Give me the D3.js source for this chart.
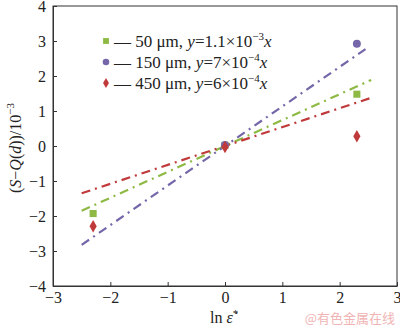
<!DOCTYPE html>
<html><head><meta charset="utf-8">
<script src="https://cdn.jsdelivr.net/npm/d3@7"></script>
<style>body{margin:0;background:#fff}svg{display:block}</style>
</head><body><svg id="c" width="400" height="327"></svg>
<script>
const seriesNames = ["50 μm", "150 μm", "450 μm"];
const seriesColors = ["#8db944", "#7466a8", "#c0393b"];
const pointX = [-2.3, 0, 2.3];
const green50 = [-1.93, 0.02, 1.48];
const purple150 = [null, 0.03, 2.92];
const red450 = [-2.29, -0.03, 0.28];
const fitSlopes = [0.74, 1.13, 0.54];
const fitStart = [-2.5, -2.5, -2.5];
const fitEnd = [2.55, 2.45, 2.6];
const xTicks = [-3, -2, -1, 0, 1, 2, 3];
const yTicks = [-4, -3, -2, -1, 0, 1, 2, 3, 4];

const FONT = "'Liberation Serif', 'Times New Roman', serif";
const svg = d3.select("#c");
const x = d3.scaleLinear().domain([-3, 3]).range([53, 397]);
const y = d3.scaleLinear().domain([-4, 4]).range([286, 6]);

svg.append("rect").attr("x", 53).attr("y", 6).attr("width", 344).attr("height", 280)
  .attr("fill", "none").attr("stroke", "#333").attr("stroke-width", 1);

const xa = svg.append("g").attr("transform", "translate(0,286)")
  .call(d3.axisBottom(x).tickValues(xTicks).tickSizeInner(-4).tickSizeOuter(0).tickPadding(6)
    .tickFormat(d => d < 0 ? "\u2212" + Math.abs(d) : d));
const ya = svg.append("g").attr("transform", "translate(53,0)")
  .call(d3.axisLeft(y).tickValues(yTicks).tickSizeInner(-4).tickSizeOuter(0).tickPadding(7)
    .tickFormat(d => d < 0 ? "\u2212" + Math.abs(d) : d));
[xa, ya].forEach(a => {
  a.attr("font-family", FONT).attr("font-size", 16);
  a.select(".domain").attr("stroke", "#333");
  a.selectAll(".tick line").attr("stroke", "#333");
  a.selectAll("text").attr("fill", "#222");
});

const line = d3.line().x(d => x(d[0])).y(d => y(d[1]));
fitSlopes.forEach((s, i) => {
  svg.append("path").datum([[fitStart[i], s * fitStart[i]], [fitEnd[i], s * fitEnd[i]]])
    .attr("d", line).attr("stroke", seriesColors[i]).attr("stroke-width", 2.2)
    .attr("fill", "none").attr("stroke-dasharray", "9,5,2,5");
});

const allSeries = [green50, purple150, red450];
const sym = [d3.symbolSquare, d3.symbolCircle, d3.symbolDiamond];
const sizes = [50, 50, 45];
allSeries.forEach((vals, i) => {
  vals.forEach((v, j) => {
    if (v === null) return;
    svg.append("path").attr("d", d3.symbol(sym[i], sizes[i])())
      .attr("transform", `translate(${x(pointX[j])},${y(v)})`)
      .attr("fill", seriesColors[i]);
  });
});

const legendEq = [["1.1×10", "−3"], ["7×10", "−4"], ["6×10", "−4"]];
seriesNames.forEach((n, i) => {
  const ly = 41 + i * 21;
  svg.append("path").attr("d", d3.symbol(sym[i], i === 2 ? 30 : 34)())
    .attr("transform", `translate(106,${ly})`).attr("fill", seriesColors[i]);
  const t = svg.append("text").attr("x", 114).attr("y", ly + 6)
    .attr("font-size", 17).attr("font-family", FONT).attr("fill", "#222");
  t.append("tspan").text("\u2014 " + n + ", ");
  t.append("tspan").attr("font-style", "italic").text("y");
  t.append("tspan").text("=" + legendEq[i][0]);
  t.append("tspan").attr("font-size", 11).attr("dy", -7).text(legendEq[i][1]);
  t.append("tspan").attr("font-style", "italic").attr("dy", 7).text("x");
});

const yl = svg.append("text").attr("transform", "translate(21,148) rotate(-90)")
  .attr("text-anchor", "middle").attr("font-size", 16).attr("font-family", FONT).attr("fill", "#222");
yl.append("tspan").text("(");
yl.append("tspan").attr("font-style", "italic").text("S");
yl.append("tspan").text("\u2212");
yl.append("tspan").attr("font-style", "italic").text("Q");
yl.append("tspan").text("(");
yl.append("tspan").attr("font-style", "italic").text("d");
yl.append("tspan").text("))/10");
yl.append("tspan").attr("font-size", 11).attr("dy", -7).text("\u22123");

const xl = svg.append("text").attr("x", 210).attr("y", 323).attr("font-size", 16)
  .attr("font-family", FONT).attr("fill", "#222");
xl.append("tspan").text("ln ");
xl.append("tspan").attr("font-style", "italic").text("\u03B5\u0307");
xl.append("tspan").attr("font-size", 11).attr("dy", -6).text("*");

svg.append("text").attr("x", 395).attr("y", 323).attr("text-anchor", "end")
  .attr("font-size", 13).attr("font-family", "'Noto Sans CJK SC'").attr("fill", "#f0b4b4")
  .text("@有色金属在线");
</script></body></html>
